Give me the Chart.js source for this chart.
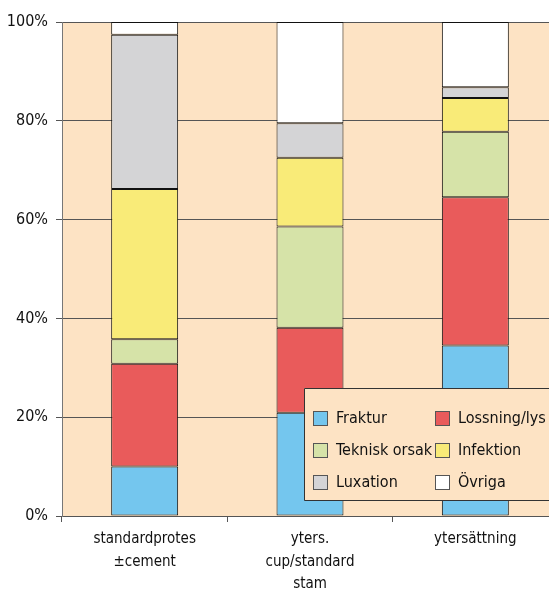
<!DOCTYPE html>
<html>
<head>
<meta charset="utf-8">
<script src="https://cdn.jsdelivr.net/npm/chart.js@4"></script>
<style>
  html, body { margin: 0; padding: 0; background: #fff; }
  #wrap { width: 549px; height: 594px; overflow: hidden; }
</style>
</head>
<body>
<div id="wrap"><canvas id="canvas" width="558" height="594"></canvas></div>
<script>
// categories and series (percent of revisions)
const categories = [
  ["standardprotes", "±cement"],
  ["yters.", "cup/standard", "stam"],
  ["ytersättning"]
];
const fraktur = [10.0, 20.9, 34.5];
const lossning = [20.8, 17.2, 30.0];
const teknisk = [5.0, 20.5, 13.3];
const infektion = [30.4, 13.9, 6.8];
const luxation = [31.2, 7.0, 2.2];
const ovriga = [2.6, 20.5, 13.2];
const yTicks = [0, 20, 40, 60, 80, 100];

const FONT = "'DejaVu Sans Condensed', 'Liberation Sans Narrow', sans-serif";
const peach = "#fde3c4";

function makeSet(label, data, color) {
  return {
    label: label,
    data: data,
    backgroundColor: color,
    borderColor: "#111",
    borderWidth: 1,
    borderSkipped: false,
    barPercentage: 0.405,
    categoryPercentage: 1.0
  };
}

// background of the plot area
const plotBg = {
  id: "plotBg",
  beforeDraw(chart) {
    const a = chart.chartArea;
    const ctx = chart.ctx;
    ctx.save();
    ctx.fillStyle = peach;
    ctx.fillRect(a.left, a.top, a.right - a.left, a.bottom - a.top);
    ctx.restore();
  }
};

// legend box drawn inside the plot, two columns
const boxLegend = {
  id: "boxLegend",
  afterDraw(chart) {
    const ctx = chart.ctx;
    const sets = chart.data.datasets;
    const left = 304, top = 388, right = 560, bottom = 500;
    ctx.save();
    ctx.fillStyle = peach;
    ctx.fillRect(left, top, right - left, bottom - top);
    ctx.strokeStyle = "#333";
    ctx.lineWidth = 1;
    ctx.beginPath();
    ctx.moveTo(right, top + 0.5);
    ctx.lineTo(left + 0.5, top + 0.5);
    ctx.lineTo(left + 0.5, bottom + 0.5);
    ctx.lineTo(right, bottom + 0.5);
    ctx.stroke();
    ctx.font = "16px " + FONT;
    if ("fontStretch" in ctx) ctx.fontStretch = "condensed";
    ctx.textBaseline = "middle";
    for (let i = 0; i < sets.length; i++) {
      const col = i % 2;
      const row = Math.floor(i / 2);
      const x = col === 0 ? 313 : 435;
      const y = 418 + row * 32;
      ctx.fillStyle = sets[i].backgroundColor;
      ctx.fillRect(x, y - 7, 15, 15);
      ctx.strokeStyle = "#555";
      ctx.strokeRect(x + 0.5, y - 6.5, 14, 14);
      ctx.fillStyle = "#111";
      ctx.fillText(sets[i].label, x + 23, y + 1);
    }
    ctx.restore();
  }
};

const chart = new Chart(document.getElementById("canvas"), {
  type: "bar",
  data: {
    labels: categories,
    datasets: [
      makeSet("Fraktur", fraktur, "#74c6ee"),
      makeSet("Lossning/lys", lossning, "#e95b5b"),
      makeSet("Teknisk orsak", teknisk, "#d6e3a8"),
      makeSet("Infektion", infektion, "#f9eb78"),
      makeSet("Luxation", luxation, "#d4d4d6"),
      makeSet("Övriga", ovriga, "#ffffff")
    ]
  },
  options: {
    responsive: false,
    animation: false,
    layout: { padding: { top: 22, right: 0, left: 0, bottom: 0 } },
    plugins: {
      legend: { display: false },
      tooltip: { enabled: false }
    },
    scales: {
      x: {
        stacked: true,
        grid: { drawOnChartArea: false, drawTicks: true, tickLength: 6, color: "#555", offset: true },
        border: { display: true, color: "#555", width: 1 },
        ticks: { color: "#111", font: { family: FONT, size: 15, lineHeight: 1.5 }, padding: 6, maxRotation: 0 },
        afterFit(scale) { scale.height = 78; }
      },
      y: {
        stacked: true,
        min: 0,
        max: 100,
        afterBuildTicks(scale) { scale.ticks = yTicks.map(v => ({ value: v })); },
        grid: { color: "#555", tickLength: 6, drawTicks: true },
        border: { display: true, color: "#777", width: 1 },
        ticks: { color: "#111", font: { family: FONT, size: 16 }, padding: 8, callback: v => v + "%" },
        afterFit(scale) { scale.width = 62; }
      }
    }
  },
  plugins: [plotBg, boxLegend]
});
</script>
</body>
</html>
